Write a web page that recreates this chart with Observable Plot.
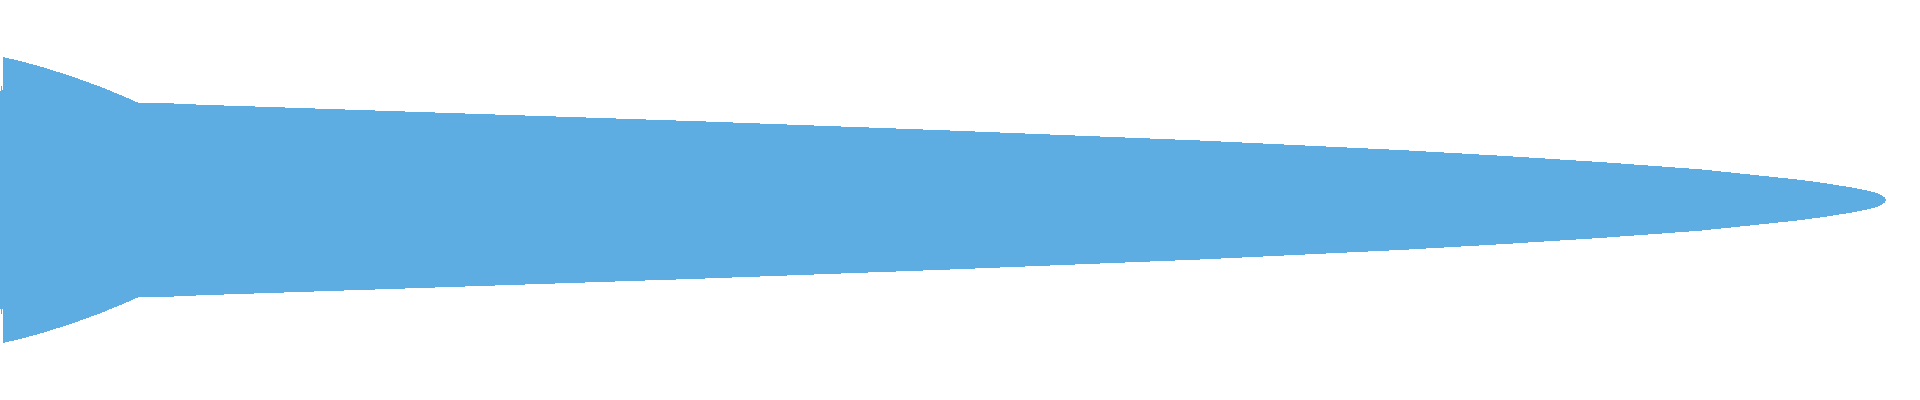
<!DOCTYPE html>
<html>
<head>
<meta charset="utf-8">
<script src="https://cdn.jsdelivr.net/npm/d3@7"></script>
<script src="https://cdn.jsdelivr.net/npm/@observablehq/plot@0.6"></script>
<style>
  html, body { margin: 0; padding: 0; background: #ffffff; }
  #chart svg { display: block; }
</style>
</head>
<body>
<div id="chart"></div>
<script>
// Position along the shape (horizontal units)
const positions = [0, 1, 1.5, 2, 2.5, 3, 20, 40, 70, 100, 120, 130, 138, 163, 200, 450, 700, 950, 1200, 1400, 1500, 1600, 1700, 1750, 1800, 1825, 1850, 1862, 1870, 1875, 1878, 1881, 1883, 1884.5, 1885.3, 1885.8, 1886];
// Half-width of the mirrored band at each position
const halfWidths = [109, 109, 114, 109, 109, 143, 139, 133.6, 124.3, 113.4, 105.2, 100.9, 97.3, 97, 95.3, 87, 78.7, 69.5, 59.5, 50, 44.3, 38, 30.7, 25.5, 20.2, 16.8, 12.8, 10.6, 8.8, 7.5, 6.4, 5.0, 3.8, 2.6, 1.7, 0.9, 0];

const data = positions.map((p, i) => ({ p, h: halfWidths[i] }));

const chart = Plot.plot({
  width: 1920,
  height: 400,
  margin: 0,
  x: { domain: [0, 1920], axis: null },
  y: { domain: [-200, 200], axis: null },
  marks: [
    Plot.areaY(data, {
      x: "p",
      y1: d => -d.h,
      y2: d => d.h,
      fill: "#5dade2",
      curve: "linear",
      shapeRendering: "crispEdges"
    })
  ]
});
document.getElementById("chart").appendChild(chart);
</script>
</body>
</html>
